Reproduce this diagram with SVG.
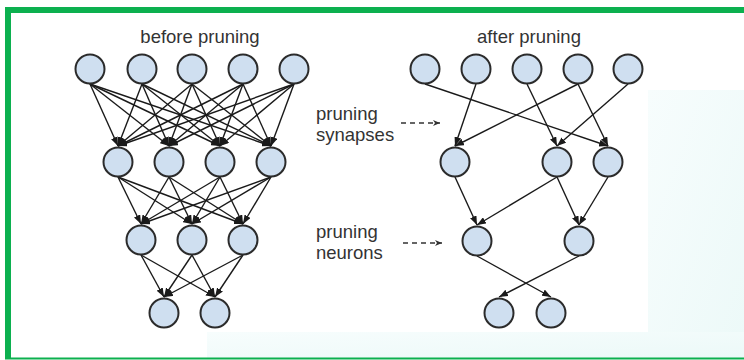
<svg xmlns="http://www.w3.org/2000/svg" width="744" height="360" viewBox="0 0 744 360">
  <defs>
    <marker id="arr" viewBox="0 0 9 7" markerWidth="9" markerHeight="7" markerUnits="userSpaceOnUse" refX="9" refY="3.5" orient="auto">
      <path d="M0,0 L9,3.5 L0,7 z" fill="#1a1a1a"/>
    </marker>
    <marker id="darr" viewBox="0 0 7 6" markerWidth="7" markerHeight="6" markerUnits="userSpaceOnUse" refX="7" refY="3" orient="auto">
      <path d="M0,0 L7,3 L0,6 L2,3 z" fill="#333"/>
    </marker>
    <linearGradient id="wm" x1="0" y1="0" x2="1" y2="1">
      <stop offset="0" stop-color="#f7fdfd"/>
      <stop offset="1" stop-color="#ecf9f8"/>
    </linearGradient>
  </defs>
  <style>
    .node { fill: #cfdff0; stroke: #2b2b2b; stroke-width: 2; }
    .edge { stroke: #1a1a1a; stroke-width: 1.4; fill: none; marker-end: url(#arr); }
    .dash { stroke: #333; stroke-width: 1.5; stroke-dasharray: 5 4; fill: none; marker-end: url(#darr); }
    .lbl { font-family: "Liberation Sans", Arial, sans-serif; font-size: 18.5px; fill: #333; }
  </style>
  <rect x="0" y="0" width="744" height="360" fill="#ffffff"/>
  <rect x="648" y="90" width="96" height="268" fill="url(#wm)"/>
  <rect x="207" y="332" width="537" height="26" fill="url(#wm)"/>
  <g id="frame" fill="#0cb04f">
    <rect x="5" y="7" width="739" height="6"/>
    <rect x="5" y="7" width="6" height="352"/>
    <rect x="5" y="357.5" width="739" height="2"/>
  </g>

  <g id="titles" class="lbl" text-anchor="middle">
    <text x="200" y="43">before pruning</text>
    <text x="529" y="43">after pruning</text>
  </g>
  <g id="label-synapses" class="lbl">
    <text x="316" y="120">pruning</text>
    <text x="316" y="141">synapses</text>
  </g>
  <g id="label-neurons" class="lbl">
    <text x="316" y="238">pruning</text>
    <text x="316" y="259">neurons</text>
  </g>

  <g id="connectors">
    <!-- left: layer 1 -> layer 2 -->
    <line class="edge" x1="90" y1="84" x2="118" y2="146"/>
    <line class="edge" x1="90" y1="84" x2="169" y2="146"/>
    <line class="edge" x1="90" y1="84" x2="220" y2="146"/>
    <line class="edge" x1="90" y1="84" x2="271" y2="146"/>
    <line class="edge" x1="142" y1="84" x2="118" y2="146"/>
    <line class="edge" x1="142" y1="84" x2="169" y2="146"/>
    <line class="edge" x1="142" y1="84" x2="220" y2="146"/>
    <line class="edge" x1="142" y1="84" x2="271" y2="146"/>
    <line class="edge" x1="192" y1="84" x2="118" y2="146"/>
    <line class="edge" x1="192" y1="84" x2="169" y2="146"/>
    <line class="edge" x1="192" y1="84" x2="220" y2="146"/>
    <line class="edge" x1="192" y1="84" x2="271" y2="146"/>
    <line class="edge" x1="243" y1="84" x2="118" y2="146"/>
    <line class="edge" x1="243" y1="84" x2="169" y2="146"/>
    <line class="edge" x1="243" y1="84" x2="220" y2="146"/>
    <line class="edge" x1="243" y1="84" x2="271" y2="146"/>
    <line class="edge" x1="294" y1="84" x2="118" y2="146"/>
    <line class="edge" x1="294" y1="84" x2="169" y2="146"/>
    <line class="edge" x1="294" y1="84" x2="220" y2="146"/>
    <line class="edge" x1="294" y1="84" x2="271" y2="146"/>
    <!-- left: layer 2 -> layer 3 -->
    <line class="edge" x1="118" y1="177" x2="141" y2="224"/>
    <line class="edge" x1="118" y1="177" x2="192" y2="224"/>
    <line class="edge" x1="118" y1="177" x2="243" y2="224"/>
    <line class="edge" x1="169" y1="177" x2="141" y2="224"/>
    <line class="edge" x1="169" y1="177" x2="192" y2="224"/>
    <line class="edge" x1="169" y1="177" x2="243" y2="224"/>
    <line class="edge" x1="220" y1="177" x2="141" y2="224"/>
    <line class="edge" x1="220" y1="177" x2="192" y2="224"/>
    <line class="edge" x1="220" y1="177" x2="243" y2="224"/>
    <line class="edge" x1="271" y1="177" x2="141" y2="224"/>
    <line class="edge" x1="271" y1="177" x2="192" y2="224"/>
    <line class="edge" x1="271" y1="177" x2="243" y2="224"/>
    <!-- left: layer 3 -> layer 4 -->
    <line class="edge" x1="141" y1="255" x2="164" y2="297"/>
    <line class="edge" x1="141" y1="255" x2="215" y2="297"/>
    <line class="edge" x1="192" y1="255" x2="164" y2="297"/>
    <line class="edge" x1="192" y1="255" x2="215" y2="297"/>
    <line class="edge" x1="243" y1="255" x2="164" y2="297"/>
    <line class="edge" x1="243" y1="255" x2="215" y2="297"/>
    <!-- right -->
    <line class="edge" x1="425" y1="84" x2="608" y2="146"/>
    <line class="edge" x1="476" y1="84" x2="455" y2="146"/>
    <line class="edge" x1="527" y1="84" x2="557" y2="146"/>
    <line class="edge" x1="578" y1="84" x2="455" y2="146"/>
    <line class="edge" x1="578" y1="84" x2="608" y2="146"/>
    <line class="edge" x1="628" y1="84" x2="557" y2="146"/>
    <line class="edge" x1="455" y1="177" x2="477" y2="225"/>
    <line class="edge" x1="557" y1="177" x2="477" y2="225"/>
    <line class="edge" x1="557" y1="177" x2="579" y2="225"/>
    <line class="edge" x1="608" y1="177" x2="579" y2="225"/>
    <line class="edge" x1="477" y1="256" x2="551" y2="297"/>
    <line class="edge" x1="579" y1="256" x2="499" y2="297"/>
    <!-- dashed pointers -->
    <line class="dash" x1="401" y1="123" x2="440" y2="123"/>
    <line class="dash" x1="403" y1="243" x2="442" y2="243"/>
  </g>

  <g id="before-nodes">
    <circle id="b1-1" class="node" cx="90" cy="69" r="14.5"/>
    <circle id="b1-2" class="node" cx="142" cy="69" r="14.5"/>
    <circle id="b1-3" class="node" cx="192" cy="69" r="14.5"/>
    <circle id="b1-4" class="node" cx="243" cy="69" r="14.5"/>
    <circle id="b1-5" class="node" cx="294" cy="69" r="14.5"/>
    <circle id="b2-1" class="node" cx="118" cy="162" r="14.5"/>
    <circle id="b2-2" class="node" cx="169" cy="162" r="14.5"/>
    <circle id="b2-3" class="node" cx="220" cy="162" r="14.5"/>
    <circle id="b2-4" class="node" cx="271" cy="162" r="14.5"/>
    <circle id="b3-1" class="node" cx="141" cy="240" r="14.5"/>
    <circle id="b3-2" class="node" cx="192" cy="240" r="14.5"/>
    <circle id="b3-3" class="node" cx="243" cy="240" r="14.5"/>
    <circle id="b4-1" class="node" cx="164" cy="313" r="14.5"/>
    <circle id="b4-2" class="node" cx="215" cy="313" r="14.5"/>
  </g>
  <g id="after-nodes">
    <circle id="a1-1" class="node" cx="425" cy="69" r="14.5"/>
    <circle id="a1-2" class="node" cx="476" cy="69" r="14.5"/>
    <circle id="a1-3" class="node" cx="527" cy="69" r="14.5"/>
    <circle id="a1-4" class="node" cx="578" cy="69" r="14.5"/>
    <circle id="a1-5" class="node" cx="628" cy="69" r="14.5"/>
    <circle id="a2-1" class="node" cx="455" cy="162" r="14.5"/>
    <circle id="a2-2" class="node" cx="557" cy="162" r="14.5"/>
    <circle id="a2-3" class="node" cx="608" cy="162" r="14.5"/>
    <circle id="a3-1" class="node" cx="477" cy="241" r="14.5"/>
    <circle id="a3-2" class="node" cx="579" cy="241" r="14.5"/>
    <circle id="a4-1" class="node" cx="499" cy="313" r="14.5"/>
    <circle id="a4-2" class="node" cx="551" cy="313" r="14.5"/>
  </g>
</svg>
